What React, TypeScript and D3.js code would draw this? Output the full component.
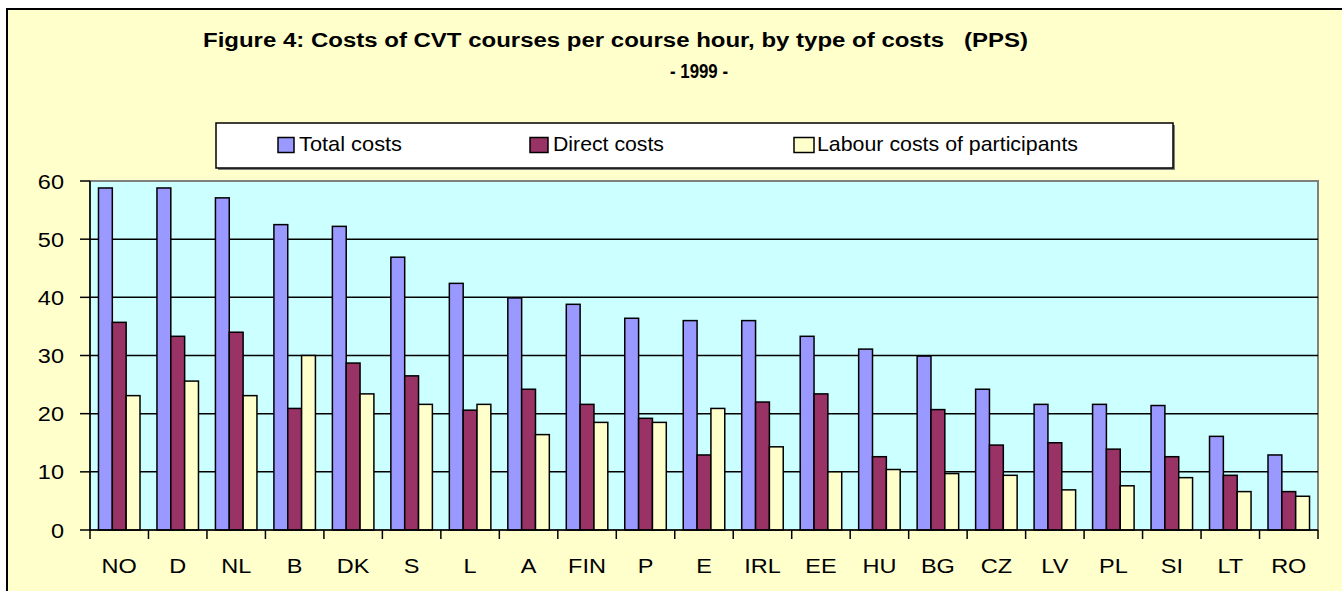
import React from "react";
import * as d3 from "d3";

const categories = ["NO","D","NL","B","DK","S","L","A","FIN","P","E","IRL","EE","HU","BG","CZ","LV","PL","SI","LT","RO"];
const totalCosts = [58.8,58.8,57.1,52.5,52.2,46.9,42.4,39.9,38.8,36.4,36.0,36.0,33.3,31.1,29.9,24.2,21.6,21.6,21.4,16.1,12.9];
const directCosts = [35.7,33.3,34.0,20.9,28.7,26.5,20.6,24.2,21.6,19.2,12.9,22.0,23.4,12.6,20.7,14.6,15.0,13.9,12.6,9.4,6.6];
const labourCosts = [23.1,25.6,23.1,30.0,23.4,21.6,21.6,16.4,18.5,18.5,20.9,14.3,10.0,10.4,9.7,9.4,6.9,7.6,9.0,6.6,5.8];
const seriesNames = ["Total costs","Direct costs","Labour costs of participants"];
const seriesColors = ["#9999FF","#993366","#FFFFCC"];
const yTicks = [0,10,20,30,40,50,60];
const titleLine1 = "Figure 4: Costs of CVT courses per course hour, by type of costs   (PPS)";
const titleLine2 = "- 1999 -";

export default function App() {
  const W = 1342, H = 591;
  const left = 90, right = 1318, top = 181, bottom = 530;
  const font = "'Liberation Sans', Arial, sans-serif";
  const x = d3.scaleBand<string>().domain(categories).range([left, right]).padding(0);
  const bw = x.bandwidth();
  const gap = bw * 0.29;
  const xs = d3.scaleBand<number>().domain([0,1,2]).range([gap/2, bw - gap/2]).padding(0);
  const y = d3.scaleLinear().domain([0,60]).range([bottom, top]);
  const series = [totalCosts, directCosts, labourCosts];
  const legendX = [278, 530, 794];
  const legendW = [16, 18, 20];
  const legendTextX = [299, 553, 817];
  const legendTextW = [103, 111, 261];
  const sx = 1.12;
  return (
    <svg width={W} height={H} style={{position:"absolute", left:0, top:0}} fontFamily={font}>
      <rect x={0} y={0} width={W} height={H} fill="#ffffff" />
      <rect x={7} y={9} width={W + 10} height={H + 10} fill="#FFFFCC" stroke="#000" strokeWidth={2} />
      <text x={203} y={47} fontWeight="bold" fontSize={20} textLength={825} lengthAdjust="spacingAndGlyphs" style={{whiteSpace:"pre"}}>{titleLine1}</text>
      <text x={670} y={78} fontWeight="bold" fontSize={20} textLength={58} lengthAdjust="spacingAndGlyphs" style={{whiteSpace:"pre"}}>{titleLine2}</text>
      {/* legend */}
      <rect x={218} y={125} width={957} height={45} fill="#808080" />
      <rect x={216} y={123} width={957} height={45} fill="#ffffff" stroke="#000" strokeWidth={1.5} />
      {seriesNames.map((n, i) => (
        <g key={n}>
          <rect x={legendX[i]} y={137.5} width={legendW[i]} height={15} fill={seriesColors[i]} stroke="#000" strokeWidth={1.5} />
          <text x={legendTextX[i]} y={151} fontSize={21} textLength={legendTextW[i]} lengthAdjust="spacingAndGlyphs">{n}</text>
        </g>
      ))}
      {/* plot area */}
      <rect x={left} y={top} width={right - left} height={bottom - top} fill="#CCFFFF" stroke="#808080" strokeWidth={2} />
      {yTicks.filter(t => t > 0 && t < 60).map(t => (
        <line key={t} x1={left} x2={right} y1={y(t)} y2={y(t)} stroke="#000" strokeWidth={1.5} />
      ))}
      {categories.map((c, ci) => (
        <g key={c}>
          {series.map((s, si) => (
            <rect key={si} x={(x(c) as number) + (xs(si) as number)} y={y(s[ci])} width={xs.bandwidth()} height={y(0) - y(s[ci])}
              fill={seriesColors[si]} stroke="#000" strokeWidth={1.5} />
          ))}
        </g>
      ))}
      {/* axes */}
      <line x1={left} x2={left} y1={top} y2={bottom} stroke="#000" strokeWidth={1.5} />
      <line x1={left} x2={right} y1={bottom} y2={bottom} stroke="#000" strokeWidth={1.5} />
      {yTicks.map(t => (
        <g key={t}>
          <line x1={left - 10} x2={left} y1={y(t)} y2={y(t)} stroke="#000" strokeWidth={1.5} />
          <text transform={`translate(64,${y(t) + 7.5}) scale(${sx},1)`} textAnchor="end" fontSize={21}>{t}</text>
        </g>
      ))}
      {categories.map(c => (
        <line key={c} x1={x(c) as number} x2={x(c) as number} y1={bottom} y2={bottom + 9} stroke="#000" strokeWidth={1.5} />
      ))}
      <line x1={right} x2={right} y1={bottom} y2={bottom + 9} stroke="#000" strokeWidth={1.5} />
      {categories.map(c => (
        <text key={c} transform={`translate(${(x(c) as number) + bw / 2},573) scale(${sx},1)`} textAnchor="middle" fontSize={21}>{c}</text>
      ))}
    </svg>
  );
}
